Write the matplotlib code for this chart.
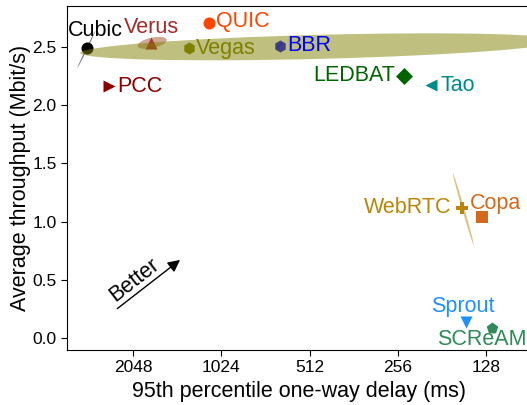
import numpy as np
import matplotlib.pyplot as plt
from matplotlib.patches import Ellipse

plt.rcParams['font.family'] = ['Liberation Sans', 'DejaVu Sans']

# Datos de los esquemas
schemes = ['Cubic', 'Verus', 'QUIC', 'Vegas', 'BBR', 'PCC', 'LEDBAT', 'Tao',
           'WebRTC', 'Copa', 'Sprout', 'SCReAM']
delay = [2940, 1780, 1125, 1318, 648, 2474, 244, 197, 155, 132, 150, 122]
tput = [2.49, 2.53, 2.70, 2.49, 2.51, 2.16, 2.25, 2.17, 1.12, 1.04, 0.14, 0.09]
colors = ['black', '#a52a2a', '#ff4500', '#808000', '#0000ff', '#8b0000',
          '#006400', '#008b8b', '#b8860b', '#d2691e', '#1e90ff', '#2e8b57']
markers = ['o', '^', 'o', 'h', 'h', '>', 'D', '<', 'P', 's', 'v', 'p']

# elipses: centro (log2 ms), centro tput, ancho, alto, angulo
ell_names = ['Cubic', 'Verus', 'Vegas', 'BBR', 'WebRTC']
ell_cx = [11.53, 10.784, 8.875, 9.34, 7.256]
ell_cy = [2.478, 2.534, 2.50, 2.51, 1.108]
ell_w = [0.38, 0.335, 5.45, 0.09, 0.663]
ell_h = [0.014, 0.09, 0.206, 0.006, 0.025]
ell_ang = [122.7, -9.0, -1.1, 143.0, 68.9]

# posicion de las etiquetas (pixeles respecto al marcador)
lab_off = [(8, 17), (0, 16), (7, 2), (7, -1), (8, 0), (8, 0), (-9, 0),
           (9, 0), (-10, 0), (14, 14), (-3, 16), (-10, -12)]
lab_ha = ['center', 'center', 'left', 'left', 'left', 'left', 'right', 'left',
          'right', 'center', 'center', 'center']

fig = plt.figure(figsize=(5.27, 4.05), dpi=100)
ax = fig.add_axes([67 / 527, 55 / 405, 465 / 527, 344 / 405])

x = np.log2(delay)
for i, name in enumerate(schemes):
    ax.scatter(x[i], tput[i], marker=markers[i], color=colors[i], s=75,
               zorder=2, linewidths=0)
    ax.annotate(name, (x[i], tput[i]), xytext=lab_off[i],
                textcoords='offset pixels', ha=lab_ha[i], va='center',
                color=colors[i], fontsize=15.5, zorder=4)

for i, name in enumerate(ell_names):
    c = colors[schemes.index(name)]
    if name == 'Verus':
        c = '#a0522d'
    e = Ellipse((ell_cx[i], ell_cy[i]), ell_w[i], ell_h[i], angle=ell_ang[i],
                facecolor=c, edgecolor='none', alpha=0.5, zorder=3)
    ax.add_patch(e)

# flecha "Better"
ax.annotate('', xy=(10.443, 0.687), xytext=(11.205, 0.24),
            arrowprops=dict(arrowstyle='-|>', color='black', lw=1,
                            mutation_scale=18))
ax.text(10.99, 0.50, 'Better', rotation=38, fontsize=15.5, ha='center',
        va='center')

ax.set_xlim(11.75, 6.477)
ax.set_ylim(-0.10, 2.85)
ticks = [11, 10, 9, 8, 7]
ax.set_xticks(ticks)
ax.set_xticklabels([str(2 ** t) for t in ticks])
ax.set_yticks([0.0, 0.5, 1.0, 1.5, 2.0, 2.5])
ax.tick_params(labelsize=12.5, length=4)
ax.spines['right'].set_visible(False)
ax.set_xlabel('95th percentile one-way delay (ms)', fontsize=15.5)
ax.set_ylabel('Average throughput (Mbit/s)', fontsize=15.5, labelpad=1)

fig.savefig('out.png', dpi=100)
